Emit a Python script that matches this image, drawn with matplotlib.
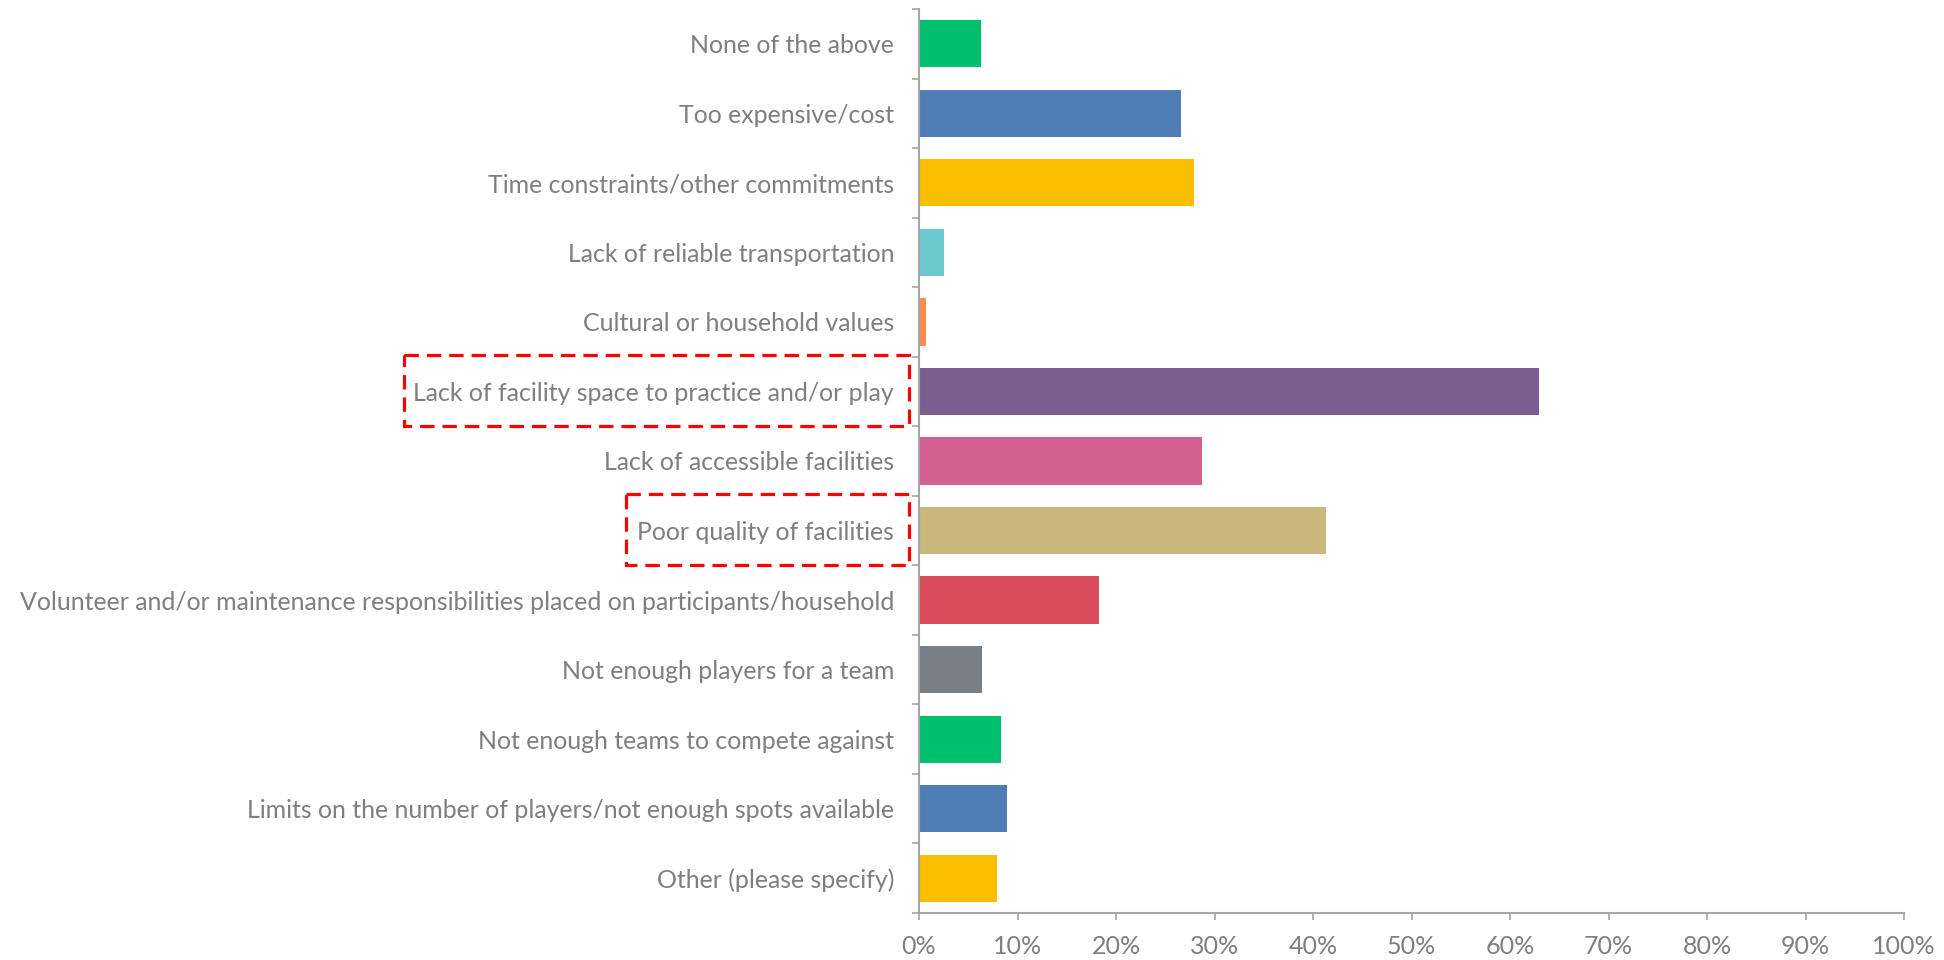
import matplotlib
matplotlib.use("Agg")
import matplotlib.pyplot as plt
import matplotlib.transforms as mtransforms
from matplotlib.patches import Rectangle
from matplotlib.ticker import PercentFormatter

categories = [
    "None of the above",
    "Too expensive/cost",
    "Time constraints/other commitments",
    "Lack of reliable transportation",
    "Cultural or household values",
    "Lack of facility space to practice and/or play",
    "Lack of accessible facilities",
    "Poor quality of facilities",
    "Volunteer and/or maintenance responsibilities placed on participants/household",
    "Not enough players for a team",
    "Not enough teams to compete against",
    "Limits on the number of players/not enough spots available",
    "Other (please specify)",
]
values = [6.3, 26.6, 27.9, 2.5, 0.7, 62.9, 28.7, 41.3, 18.3, 6.4, 8.3, 8.9, 7.9]
colors = ["#00BF6F", "#507CB6", "#F9BE00", "#6BC8CD", "#FF8B4F", "#7D5E90",
          "#D25F90", "#C9B77B", "#DB4D5C", "#7A7F85", "#00BF6F", "#507CB6", "#F9BE00"]
highlighted = ["Lack of facility space to practice and/or play", "Poor quality of facilities"]
xticks = list(range(0, 101, 10))

plt.rcParams['font.family'] = ['Lato', 'DejaVu Sans']
text_color = "#7F7F7F"
axis_color = "#A6A6A6"

fig = plt.figure(figsize=(19.44, 9.6), dpi=100)
ax = fig.add_axes([919/1944, 1-913/960, (1904-919)/1944, (913-9)/960])

ypos = list(range(len(categories)))
ax.barh(ypos, values, height=0.68, color=colors)
ax.set_ylim(len(categories)-0.5, -0.5)
ax.set_xlim(0, 100)

ax.set_yticks(ypos)
ax.set_yticklabels(categories, fontsize=17.9, color=text_color)
ax.set_yticks([i - 0.5 for i in range(len(categories)+1)], minor=True)
ax.tick_params(axis='y', which='major', length=0, pad=18)
ax.tick_params(axis='y', which='minor', length=5, width=1.2, color=axis_color, direction='out')

ax.set_xticks(xticks)
ax.xaxis.set_major_formatter(PercentFormatter(decimals=0))
ax.tick_params(axis='x', which='major', length=5, width=1.2, color=axis_color,
               labelsize=18, labelcolor=text_color, pad=11)

for s in ['top', 'right']:
    ax.spines[s].set_visible(False)
for s in ['left', 'bottom']:
    ax.spines[s].set_color(axis_color)
    ax.spines[s].set_linewidth(1.5)

trans = mtransforms.blended_transform_factory(fig.transFigure, ax.transData)
box_left = {highlighted[0]: 404/1944, highlighted[1]: 626/1944}
box_right = 909/1944
for name in highlighted:
    i = categories.index(name)
    r = Rectangle((box_left[name], i - 0.53), box_right - box_left[name], 1.03,
                  transform=trans, fill=False, edgecolor="#FF0000", linewidth=2.3,
                  linestyle=(0, (4.5, 2.5)), clip_on=False)
    fig.add_artist(r)

fig.savefig("out.png", dpi=100)
